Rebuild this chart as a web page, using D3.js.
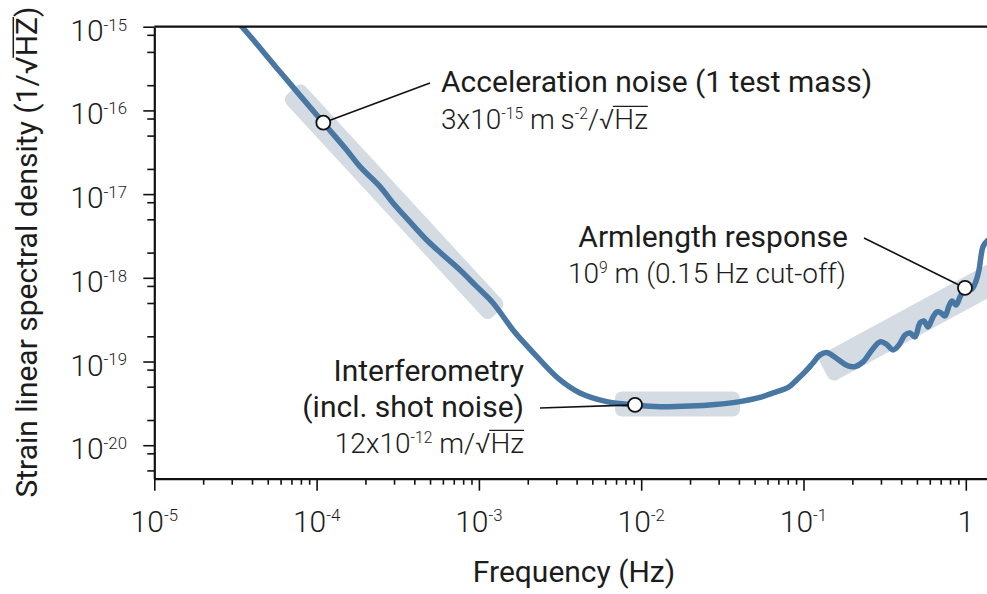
<!DOCTYPE html>
<html>
<head>
<meta charset="utf-8">
<script src="https://cdn.jsdelivr.net/npm/d3@7"></script>
<style>
body { margin: 0; background: #fff; }
svg { display: block; font-family: Roboto, "Noto Sans", sans-serif; }
</style>
</head>
<body>
<svg id="chart" width="987" height="594"></svg>
<script>
// noise curve (Hz, 1/sqrt(Hz))
var freq = [3.0e-5, 3.46e-5, 5.95e-5, 1.10e-4, 1.532e-4, 1.851e-4, 2.458e-4, 2.956e-4, 3.763e-4, 4.77e-4,
  6.01e-4, 7.65e-4, 9.60e-4, 1.222e-3, 1.622e-3, 1.978e-3, 2.378e-3, 3.163e-3, 4.197e-3, 6.13e-3,
  9.16e-3, 1.305e-2, 2.0e-2, 2.849e-2, 4.06e-2, 5.243e-2, 6.49e-2, 8.14e-2, 9.08e-2, 0.1022,
  0.1144, 0.1264, 0.139, 0.152, 0.1679, 0.188, 0.2077, 0.2326, 0.2642, 0.296,
  0.3224, 0.356, 0.3877, 0.4219, 0.4531, 0.4864, 0.5222, 0.5527, 0.5851, 0.6281,
  0.6646, 0.7035, 0.7446, 0.788, 0.8221, 0.8702, 0.921, 0.9886, 1.046, 1.092,
  1.156, 1.206, 1.276, 1.351, 1.43];
var strain = [1.31e-15, 1.0e-15, 2.89e-16, 7.13e-17, 3.36e-17, 2.13e-17, 1.23e-17, 7.83e-18, 4.65e-18, 2.83e-18,
  1.875e-18, 1.24e-18, 8.0e-19, 5.01e-19, 2.38e-19, 1.535e-19, 1.045e-19, 6.03e-20, 4.21e-20, 3.32e-20,
  3.03e-20, 2.89e-20, 2.94e-20, 3.07e-20, 3.32e-20, 3.67e-20, 4.21e-20, 4.97e-20, 6.03e-20, 7.52e-20,
  9.6e-20, 1.2e-19, 1.28e-19, 1.167e-19, 1.017e-19, 8.85e-20, 8.69e-20, 9.89e-20, 1.375e-19, 1.714e-19,
  1.622e-19, 1.375e-19, 1.578e-19, 2.075e-19, 2.19e-19, 1.967e-19, 2.89e-19, 3.05e-19, 2.59e-19, 3.40e-19,
  3.91e-19, 3.80e-19, 3.50e-19, 4.61e-19, 5.29e-19, 4.74e-19, 5.9e-19, 7.57e-19, 8.0e-19, 7.36e-19,
  9.16e-19, 1.24e-18, 2.34e-18, 2.75e-18, 2.9e-18];

var xTicks = [1e-5, 1e-4, 1e-3, 1e-2, 1e-1, 1];
var xTickLabels = [["10", "-5"], ["10", "-4"], ["10", "-3"], ["10", "-2"], ["10", "-1"], ["1", ""]];
var yTicks = [1e-15, 1e-16, 1e-17, 1e-18, 1e-19, 1e-20];
var yTickLabels = [["10", "-15"], ["10", "-16"], ["10", "-17"], ["10", "-18"], ["10", "-19"], ["10", "-20"]];

// highlighted points and shaded bands
var markFreq = [1.1e-4, 9.16e-3, 0.9886];
var markStrain = [7.13e-17, 3.03e-20, 7.57e-19];
var bandFreq = [[7.0e-5, 1.287e-3], [6.9e-3, 4.06e-2], [0.1338, 1.624]];
var bandStrain = [[1.73e-16, 3.78e-19], [3.11e-20, 3.11e-20], [7.94e-20, 1.09e-18]];

var svg = d3.select("#chart");
var fs = 30;
var ink = "#1c1c1c";

var x = d3.scaleLog().domain([1e-5, 1.351]).range([154.3, 987]);
var y = d3.scaleLog().domain([Math.pow(10, -20.4), 1e-15]).range([478.7, 26.7]);

// text with superscripts and sqrt overlines
function richText(g, px, py, parts, size, weight, anchor) {
  var t = g.append("text").attr("x", px).attr("y", py)
    .attr("font-size", size).attr("font-weight", weight)
    .attr("fill", ink).attr("text-anchor", anchor);
  var raised = false, idx = 0, over = [];
  parts.forEach(function (p) {
    var s = t.append("tspan").text(p.t);
    if (p.sup) {
      s.attr("font-size", size * 0.56).attr("dy", raised ? 0 : -size * 0.34);
      raised = true;
    } else if (raised) {
      s.attr("dy", size * 0.34);
      raised = false;
    }
    if (p.ovl) over.push([idx, idx + p.t.length - 1]);
    idx += p.t.length;
  });
  var node = t.node();
  over.forEach(function (o) {
    var x0 = node.getEndPositionOfChar(o[0] - 1).x - size * 0.05;
    var x1 = node.getEndPositionOfChar(o[1]).x;
    g.append("line").attr("x1", x0).attr("x2", x1)
      .attr("y1", py - size * 0.79).attr("y2", py - size * 0.79)
      .attr("stroke", ink).attr("stroke-width", size * 0.05);
  });
  return t;
}

svg.append("clipPath").attr("id", "plotclip").append("rect")
  .attr("x", x.range()[0]).attr("y", y.range()[1])
  .attr("width", x.range()[1] - x.range()[0]).attr("height", y.range()[0] - y.range()[1]);

var plot = svg.append("g").attr("clip-path", "url(#plotclip)");

// bands
bandFreq.forEach(function (bf, i) {
  var x0 = x(bf[0]), y0 = y(bandStrain[i][0]), x1 = x(bf[1]), y1 = y(bandStrain[i][1]);
  var len = Math.hypot(x1 - x0, y1 - y0);
  var ang = Math.atan2(y1 - y0, x1 - x0) * 180 / Math.PI;
  var th = [26, 25, 30][i];
  plot.append("rect")
    .attr("transform", "translate(" + x0 + "," + y0 + ") rotate(" + ang + ")")
    .attr("x", 0).attr("y", -th / 2).attr("width", len).attr("height", th)
    .attr("rx", 7).attr("fill", "#d4dbe3");
});

var line = d3.line()
  .x(function (d, i) { return x(freq[i]); })
  .y(function (d, i) { return y(strain[i]); })
  .curve(d3.curveCatmullRom.alpha(0.5));

plot.append("path").datum(freq).attr("d", line)
  .attr("fill", "none").attr("stroke", "#4777a2").attr("stroke-width", 5.5)
  .attr("stroke-linejoin", "round");

// axes
var xMinor = [], yMinor = [];
for (var e = -5; e < 0; e++) for (var m = 2; m <= 9; m++) xMinor.push(m * Math.pow(10, e));
for (var e2 = -21; e2 < -15; e2++) [2, 5, 8].forEach(function (m) {
  var v = m * Math.pow(10, e2);
  if (v > y.domain()[0] && v < y.domain()[1]) yMinor.push(v);
});

svg.append("g").attr("transform", "translate(0," + y.range()[0] + ")")
  .call(d3.axisBottom(x).tickValues(xTicks).tickSize(12).tickSizeOuter(0).tickFormat(""));
var gxm = svg.append("g").attr("transform", "translate(0," + y.range()[0] + ")")
  .call(d3.axisBottom(x).tickValues(xMinor).tickSize(6).tickSizeOuter(0).tickFormat(""));
svg.append("g").attr("transform", "translate(" + x.range()[0] + ",0)")
  .call(d3.axisLeft(y).tickValues(yTicks).tickSize(11).tickSizeOuter(0).tickFormat(""));
var gym = svg.append("g").attr("transform", "translate(" + x.range()[0] + ",0)")
  .call(d3.axisLeft(y).tickValues(yMinor).tickSize(7).tickSizeOuter(0).tickFormat(""));
gxm.select(".domain").remove();
gym.select(".domain").remove();
svg.selectAll(".domain").attr("stroke", "#111").attr("stroke-width", 2.2);
svg.selectAll(".tick line").attr("stroke", "#111").attr("stroke-width", 1.6);

svg.append("line")
  .attr("x1", x.range()[0]).attr("x2", x.range()[1])
  .attr("y1", y(1e-15)).attr("y2", y(1e-15))
  .attr("stroke", "#111").attr("stroke-width", 2.2);

// tick labels
var labels = svg.append("g");
xTicks.forEach(function (v, i) {
  var p = [{ t: xTickLabels[i][0] }];
  if (xTickLabels[i][1]) p.push({ t: xTickLabels[i][1], sup: true });
  richText(labels, x(v), 531.5, p, fs, 300, "middle");
});
yTicks.forEach(function (v, i) {
  richText(labels, 127, y(v) + 14, [{ t: yTickLabels[i][0] }, { t: yTickLabels[i][1], sup: true }], fs, 300, "end");
});

// axis titles
richText(svg.append("g"), 574, 581.5, [{ t: "Frequency (Hz)" }], fs, 400, "middle");
var yt = svg.append("g").attr("transform", "translate(37,252) rotate(-90)");
richText(yt, 0, 0, [{ t: "Strain linear spectral density (1/" }, { t: "\u221A" }, { t: "HZ", ovl: true }, { t: ")" }], fs, 400, "middle");

// markers with leader lines
var notes = [
  { ex: 430, ey: 83 },
  { ex: 540, ey: 408 },
  { ex: 864, ey: 238 }
];
notes.forEach(function (n, i) {
  svg.append("line").attr("x1", n.ex).attr("y1", n.ey)
    .attr("x2", x(markFreq[i])).attr("y2", y(markStrain[i]))
    .attr("stroke", "#111").attr("stroke-width", 1.6);
});
markFreq.forEach(function (f, i) {
  svg.append("circle").attr("cx", x(f)).attr("cy", y(markStrain[i])).attr("r", 7)
    .attr("fill", "#fff").attr("stroke", "#111").attr("stroke-width", 1.8);
});

// annotation text
var ann = svg.append("g");
richText(ann, 441, 91.5, [{ t: "Acceleration noise (1 test mass)" }], fs, 400, "start");
richText(ann, 441, 128.5, [{ t: "3x10" }, { t: "-15", sup: true }, { t: " m\u2009s" }, { t: "-2", sup: true },
  { t: "/\u221A" }, { t: "Hz", ovl: true }], 28, 300, "start");

richText(ann, 524, 380.5, [{ t: "Interferometry" }], fs, 400, "end");
richText(ann, 524, 416.5, [{ t: "(incl. shot noise)" }], fs, 400, "end");
richText(ann, 524, 452.5, [{ t: "12x10" }, { t: "-12", sup: true }, { t: " m/\u221A" }, { t: "Hz", ovl: true }], 28, 300, "end");

richText(ann, 848, 247, [{ t: "Armlength response" }], fs, 400, "end");
richText(ann, 846, 283, [{ t: "10" }, { t: "9", sup: true }, { t: " m (0.15 Hz cut-off)" }], 28, 300, "end");
</script>
</body>
</html>
